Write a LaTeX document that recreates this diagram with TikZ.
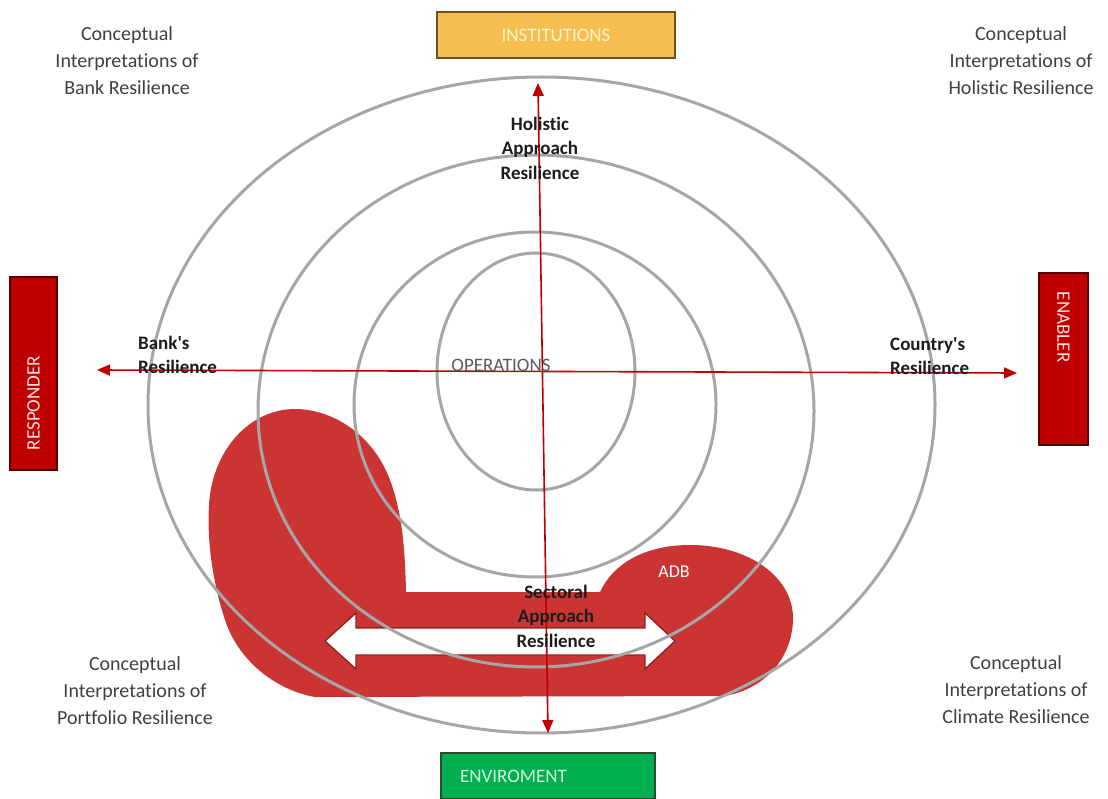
\documentclass[tikz,border=0pt]{standalone}
\usepackage{fontspec}
\setmainfont{Carlito}[Ligatures={NoCommon}]
\usetikzlibrary{arrows.meta}

\definecolor{ringgray}{RGB}{166,166,166}
\definecolor{axisred}{RGB}{192,0,0}
\definecolor{blobred}{RGB}{202,52,50}
\definecolor{arrowedge}{RGB}{140,30,30}
\definecolor{instfill}{RGB}{244,191,80}
\definecolor{instedge}{RGB}{110,80,30}
\definecolor{insttext}{RGB}{255,242,205}
\definecolor{envfill}{RGB}{0,176,80}
\definecolor{envedge}{RGB}{45,75,45}
\definecolor{envtext}{RGB}{215,245,220}
\definecolor{redfill}{RGB}{192,0,0}
\definecolor{rededge}{RGB}{95,0,0}
\definecolor{redtext}{RGB}{255,225,225}
\definecolor{cornergray}{RGB}{64,64,64}
\definecolor{labeldark}{RGB}{28,28,28}
\definecolor{opgray}{RGB}{80,92,104}

\tikzset{
  ring/.style={draw=ringgray, line width=3pt},
  axis/.style={draw=axisred, line width=1.6pt,
    {Triangle[length=13pt,width=11pt]}-{Triangle[length=13pt,width=11pt]}},
  tagbox/.style={draw, line width=1.2pt, inner sep=0pt,
    font=\fontsize{19}{22}\selectfont},
  corner/.style={font=\fontsize{20}{27}\selectfont, text=cornergray,
    align=center, inner sep=0pt},
  boldlabel/.style={font=\bfseries\fontsize{19}{24.5}\selectfont,
    text=labeldark, inner sep=0pt},
}

\begin{document}
\begin{tikzpicture}[x=1pt,y=-1pt]
\useasboundingbox (0,0) rectangle (1108,799);
\clip (0,0) rectangle (1108,799);
\fill[white] (0,0) rectangle (1108,799);

% red sectoral shape behind the rings
\fill[blobred] (295,409)
  .. controls (330,409) and (372,432) .. (390,480)
  .. controls (402,512) and (405,548) .. (406,592)
  -- (600,592)
  .. controls (615,560) and (650,545) .. (690,545)
  .. controls (750,545) and (793,578) .. (793,618)
  .. controls (793,655) and (768,688) .. (725,696)
  -- (315,697)
  .. controls (275,690) and (238,660) .. (225,620)
  .. controls (212,580) and (207,540) .. (209,505)
  .. controls (212,450) and (250,409) .. (295,409) -- cycle;

% white double-headed block arrow
\draw[draw=arrowedge, line width=1.3pt, fill=white, line join=miter]
  (325,641) -- (356,613) -- (356,628) -- (645,628) -- (645,613)
  -- (675,641) -- (645,669) -- (645,655) -- (356,655) -- (356,669) -- cycle;

% concentric rings
\draw[ring] (541.5,405) ellipse [x radius=393.5pt, y radius=328pt];
\draw[ring] (536,411) ellipse [x radius=278pt, y radius=256pt];
\draw[ring] (535,404.5) ellipse [x radius=181pt, y radius=172.5pt];
\draw[ring] (536,371.5) ellipse [x radius=99pt, y radius=118.5pt];

% end boxes
\node[tagbox, draw=instedge, fill=instfill, text=insttext,
      minimum width=238pt, minimum height=46pt] (inst) at (556,35) {INSTITUTIONS};
\node[tagbox, draw=envedge, fill=envfill, text=envtext,
      minimum height=46pt, inner xsep=19pt, text width=176pt, align=left]
      (env) at (548,776) {ENVIROMENT};
\node[tagbox, draw=rededge, fill=redfill, text=redtext, rotate=90,
      minimum height=47pt, inner xsep=20pt, text width=153pt, align=left]
      (resp) at (33.5,373.5) {RESPONDER};
\node[tagbox, draw=rededge, fill=redfill, text=redtext, rotate=-90,
      minimum height=49pt, inner xsep=19pt, text width=134pt, align=left]
      (enab) at (1063.5,359) {ENABLER};

% axes
\coordinate (axN) at (538,83);
\coordinate (axS) at (548,733);
\coordinate (axW) at (97,370);
\coordinate (axE) at (1017,373);
\draw[axis] (axW) -- (axE);
\draw[axis] (axS) -- (axN);

% inner labels
\node[font=\fontsize{19}{22}\selectfont, text=opgray, inner sep=0pt]
  (ops) at (501,365) {OPERATIONS};
\node[font=\fontsize{18}{21}\selectfont, text=white, inner sep=0pt]
  (adb) at (674,572) {ADB};
\node[boldlabel, align=center] (holistic) at (540,148)
  {Holistic\\Approach\\Resilience};
\node[boldlabel, align=center] (sectoral) at (556,616)
  {Sectoral\\Approach\\Resilience};
\node[boldlabel, align=left, anchor=west] (bank) at (138,355)
  {Bank\textquotesingle s\\Resilience};
\node[boldlabel, align=left, anchor=west] (country) at (890,356)
  {Country\textquotesingle s\\Resilience};

% corner captions
\node[corner] (ctl) at (127,61) {Conceptual\\Interpretations of\\Bank Resilience};
\node[corner] (ctr) at (1021,61) {Conceptual\\Interpretations of\\Holistic Resilience};
\node[corner] (cbl) at (135,691) {Conceptual\\Interpretations of\\Portfolio Resilience};
\node[corner] (cbr) at (1016,690) {Conceptual\\Interpretations of\\Climate Resilience};
\end{tikzpicture}
\end{document}
